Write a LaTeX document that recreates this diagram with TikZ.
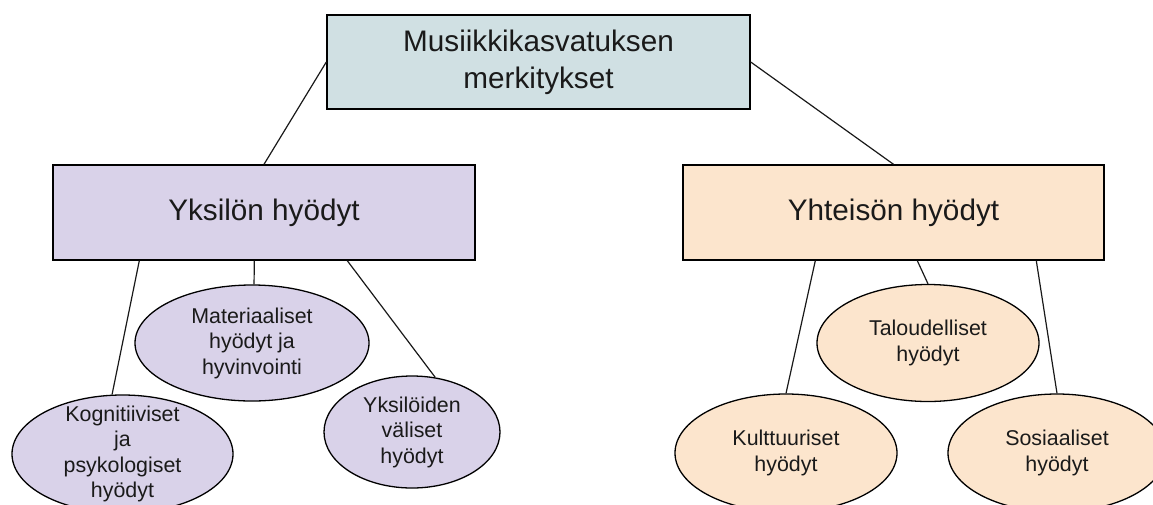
\documentclass[tikz,border=0pt]{standalone}
\usepackage{fontspec}
\setmainfont{Liberation Sans}
\usetikzlibrary{shapes.geometric}
\definecolor{topfill}{HTML}{D0E0E3}
\definecolor{purp}{HTML}{D9D2E9}
\definecolor{oran}{HTML}{FCE5CD}
\definecolor{ink}{HTML}{1A1A1A}
\begin{document}
\begin{tikzpicture}[x=1pt,y=-1pt,
  box/.style={draw=black, line width=1.4pt, inner sep=0pt, align=center, text=ink,
    font=\fontsize{29.7}{37}\selectfont},
  oval/.style={ellipse, draw=black, line width=1.3pt, inner sep=0pt},
  otext/.style={align=center, inner sep=0pt, text=ink, font=\fontsize{21.4}{25.5}\selectfont},
  conn/.style={line width=1.2pt, draw=black!90}]
\clip (0,0) rectangle (1153,504);
% boxes
\node[box, fill=topfill, minimum width=423pt, minimum height=94pt] (top) at (538.5,62) {Musiikkikasvatuksen\\merkitykset};
\node[box, fill=purp, minimum width=422pt, minimum height=95pt] (lb) at (264,212.5) {Yksilön hyödyt};
\node[box, fill=oran, minimum width=421pt, minimum height=95pt] (rb) at (893.5,212.5) {Yhteisön hyödyt};
% left ellipses
\node[oval, fill=purp, minimum width=234pt, minimum height=116pt] (mat) at (252,343) {};
\node[otext] (matt) at (mat.center) {Materiaaliset\\hyödyt ja\\hyvinvointi};
\node[oval, fill=purp, minimum width=221pt, minimum height=118pt] (kog) at (122.5,454) {};
\node[otext] (kogt) at (kog.center) {Kognitiiviset\\ja\\psykologiset\\hyödyt};
\node[oval, fill=purp, minimum width=176pt, minimum height=112pt] (yks) at (412,432) {};
\node[otext] (ykst) at (yks.center) {Yksilöiden\\väliset\\hyödyt};
% right ellipses
\node[oval, fill=oran, minimum width=222pt, minimum height=117pt] (tal) at (928,343) {};
\node[otext] (talt) at (tal.center) {Taloudelliset\\hyödyt};
\node[oval, fill=oran, minimum width=222pt, minimum height=118pt] (kul) at (786,453) {};
\node[otext] (kult) at (kul.center) {Kulttuuriset\\hyödyt};
\node[oval, fill=oran, minimum width=218pt, minimum height=118pt] (sos) at (1057,453) {};
\node[otext] (sost) at (sos.center) {Sosiaaliset\\hyödyt};
% connectors
\draw[conn] (top.west) -- (lb.north);
\draw[conn] (top.east) -- (rb.north);
\draw[conn] ([xshift=87pt]lb.south west) -- (kog.100);
\draw[conn] ([xshift=202pt]lb.south west) -- (mat.88);
\draw[conn] ([xshift=295pt]lb.south west) -- (yks.67);
\draw[conn] ([xshift=133pt]rb.south west) -- (kul.north);
\draw[conn] ([xshift=235pt]rb.south west) -- (tal.north);
\draw[conn] ([xshift=354pt]rb.south west) -- (sos.north);
\end{tikzpicture}
\end{document}
